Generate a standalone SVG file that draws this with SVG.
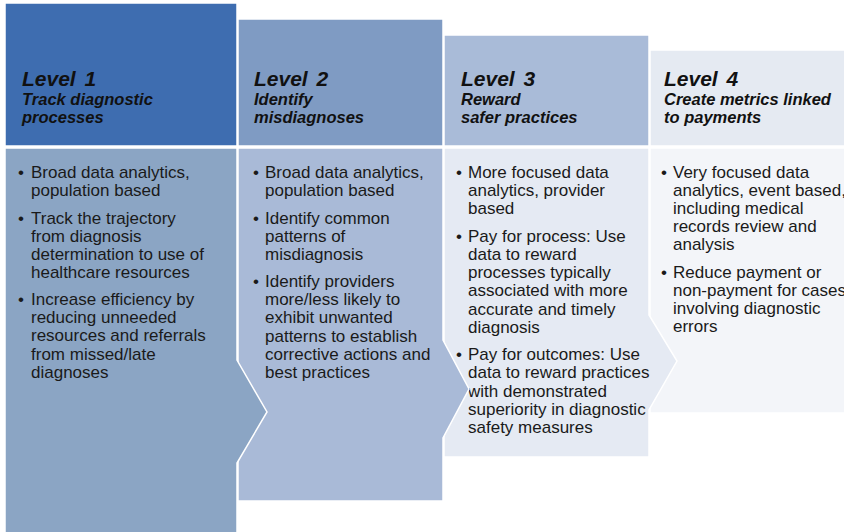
<svg xmlns="http://www.w3.org/2000/svg" width="844" height="532" viewBox="0 0 844 532">
<style>
.hd{font-family:"Liberation Sans",Arial,sans-serif;font-weight:bold;font-style:italic;fill:#111;}
.lv{font-size:21px;word-spacing:3px;}
.st{font-size:16.5px;}
.bd{font-family:"Liberation Sans",Arial,sans-serif;font-size:17px;fill:#1a1a1a;}
.sh{stroke:#ffffff;stroke-width:1.5;}
</style>
<rect width="844" height="532" fill="#ffffff"/>
<g id="level4">
<rect class="sh" x="650" y="50" width="200" height="96" fill="#e5eaf2"/>
<rect class="sh" x="650" y="148" width="200" height="265" fill="#f3f5f9"/>
<text class="hd lv" x="664" y="86">Level 4</text>
<text class="hd st"><tspan x="664" y="105">Create metrics linked</tspan><tspan x="664" y="123">to payments</tspan></text>
<text class="bd">
<tspan x="661" y="178">•</tspan><tspan x="673" y="178">Very focused data</tspan>
<tspan x="673" y="196">analytics, event based,</tspan>
<tspan x="673" y="214">including medical</tspan>
<tspan x="673" y="232">records review and</tspan>
<tspan x="673" y="250">analysis</tspan>
<tspan x="661" y="278">•</tspan><tspan x="673" y="278">Reduce payment or</tspan>
<tspan x="673" y="296">non-payment for cases</tspan>
<tspan x="673" y="314">involving diagnostic</tspan>
<tspan x="673" y="332">errors</tspan>
</text>
</g>
<g id="level3">
<rect class="sh" x="444" y="35" width="205" height="111" fill="#a9bbd8"/>
<polygon class="sh" points="444,148 649,148 649,315 677,361 649,410 649,457 444,457" fill="#e5eaf3"/>
<text class="hd lv" x="461" y="86">Level 3</text>
<text class="hd st"><tspan x="461" y="105">Reward</tspan><tspan x="461" y="123">safer practices</tspan></text>
<text class="bd">
<tspan x="456" y="178">•</tspan><tspan x="468" y="178">More focused data</tspan>
<tspan x="468" y="196">analytics, provider</tspan>
<tspan x="468" y="214">based</tspan>
<tspan x="456" y="242">•</tspan><tspan x="468" y="242">Pay for process: Use</tspan>
<tspan x="468" y="260">data to reward</tspan>
<tspan x="468" y="278">processes typically</tspan>
<tspan x="468" y="296">associated with more</tspan>
<tspan x="468" y="315">accurate and timely</tspan>
<tspan x="468" y="333">diagnosis</tspan>
<tspan x="456" y="360">•</tspan><tspan x="468" y="360">Pay for outcomes: Use</tspan>
<tspan x="468" y="378">data to reward practices</tspan>
<tspan x="468" y="397">with demonstrated</tspan>
<tspan x="468" y="415">superiority in diagnostic</tspan>
<tspan x="468" y="433">safety measures</tspan>
</text>
</g>
<g id="level2">
<rect class="sh" x="238" y="19" width="205" height="127" fill="#7f9bc3"/>
<polygon class="sh" points="238,148 443,148 443,340 469,389 443,438 443,501 238,501" fill="#a9bad7"/>
<text class="hd lv" x="254" y="86">Level 2</text>
<text class="hd st"><tspan x="254" y="105">Identify</tspan><tspan x="254" y="123">misdiagnoses</tspan></text>
<text class="bd">
<tspan x="253" y="178">•</tspan><tspan x="265" y="178">Broad data analytics,</tspan>
<tspan x="265" y="196">population based</tspan>
<tspan x="253" y="224">•</tspan><tspan x="265" y="224">Identify common</tspan>
<tspan x="265" y="242">patterns of</tspan>
<tspan x="265" y="260">misdiagnosis</tspan>
<tspan x="253" y="287">•</tspan><tspan x="265" y="287">Identify providers</tspan>
<tspan x="265" y="305">more/less likely to</tspan>
<tspan x="265" y="323">exhibit unwanted</tspan>
<tspan x="265" y="342">patterns to establish</tspan>
<tspan x="265" y="360">corrective actions and</tspan>
<tspan x="265" y="378">best practices</tspan>
</text>
</g>
<g id="level1">
<rect class="sh" x="5" y="3" width="232" height="143" fill="#3e6db0"/>
<polygon class="sh" points="5,148 237,148 237,360 267,412 237,463 237,540 5,540" fill="#8ba5c4"/>
<text class="hd lv" x="22" y="86">Level 1</text>
<text class="hd st"><tspan x="22" y="105">Track diagnostic</tspan><tspan x="22" y="123">processes</tspan></text>
<text class="bd">
<tspan x="18" y="178">•</tspan><tspan x="31" y="178">Broad data analytics,</tspan>
<tspan x="31" y="196">population based</tspan>
<tspan x="18" y="224">•</tspan><tspan x="31" y="224">Track the trajectory</tspan>
<tspan x="31" y="242">from diagnosis</tspan>
<tspan x="31" y="260">determination to use of</tspan>
<tspan x="31" y="278">healthcare resources</tspan>
<tspan x="18" y="305">•</tspan><tspan x="31" y="305">Increase efficiency by</tspan>
<tspan x="31" y="323">reducing unneeded</tspan>
<tspan x="31" y="341">resources and referrals</tspan>
<tspan x="31" y="360">from missed/late</tspan>
<tspan x="31" y="378">diagnoses</tspan>
</text>
</g>
</svg>
